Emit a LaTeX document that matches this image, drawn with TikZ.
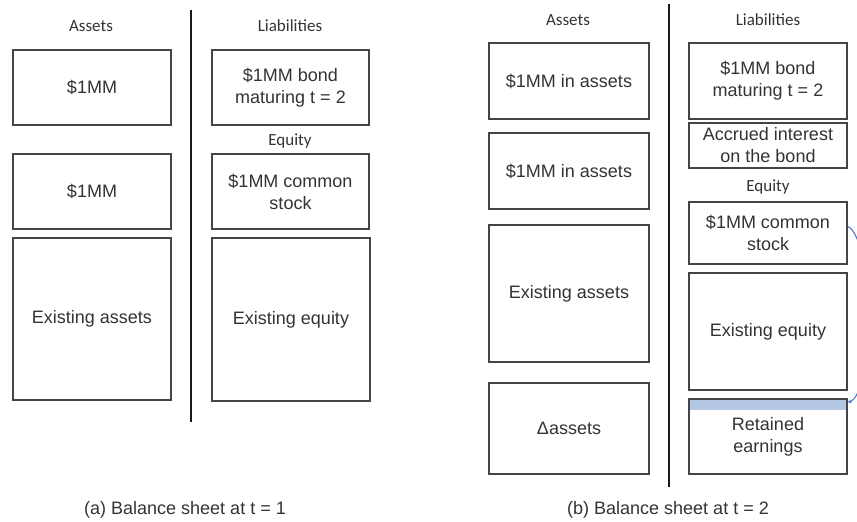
\documentclass[tikz,border=0pt]{standalone}
\usepackage{fontspec}
\setmainfont{Liberation Sans}
\newfontfamily\hdrfont{Carlito}
\usetikzlibrary{arrows.meta}
\definecolor{txt}{HTML}{333333}
\definecolor{edge}{HTML}{454545}
\definecolor{bandblue}{HTML}{B4C7E7}
\definecolor{curveblue}{HTML}{4472C4}
\tikzset{
  box/.style={draw=edge, line width=1.2pt, rectangle, inner sep=2pt, align=center,
    text=txt, font=\fontsize{18}{22}\selectfont},
  hdr/.style={text=txt, font=\hdrfont\fontsize{17}{20}\selectfont, inner sep=0pt},
  captext/.style={text=txt, font=\fontsize{18}{22}\selectfont, inner sep=0pt},
  divider/.style={draw=black!90, line width=2.2pt},
  flow/.style={draw=curveblue, line width=1pt, -{Stealth[length=4pt,width=3.5pt]}}
}
\begin{document}
\begin{tikzpicture}[x=1pt,y=-1pt]
\useasboundingbox (0,0) rectangle (857,522);
\clip (0,0) rectangle (857,522);
% ---------- (a) ----------
\node[hdr] (ha) at (91,26) {Assets};
\node[hdr] (hl) at (290,26) {Liabilities};
\node[hdr] (he) at (290,141) {Equity};
\coordinate (da1) at (191,10);
\coordinate (da2) at (191,422);
\draw[divider] (da1) -- (da2);
\node[box, minimum width=158pt, minimum height=75pt] (a1) at (92,87.5) {\$1MM};
\node[box, minimum width=158pt, minimum height=75pt] (a2) at (92,191.5) {\$1MM};
\node[box, minimum width=158pt, minimum height=162pt] (a3) at (92,319) {Existing assets};
\node[box, minimum width=157pt, minimum height=75pt] (l1) at (290.5,87.5) {\$1MM bond\\maturing t = 2};
\node[box, minimum width=157pt, minimum height=75pt] (l2) at (290.5,191.5) {\$1MM common\\stock};
\node[box, minimum width=158pt, minimum height=163pt] (l3) at (291,319.5) {Existing equity};
\node[captext] (capa) at (185,510) {(a) Balance sheet at t = 1};
% ---------- (b) ----------
\node[hdr] (hb) at (568,20) {Assets};
\node[hdr] (hr) at (768,20) {Liabilities};
\node[hdr] (hre) at (768,187) {Equity};
\coordinate (db1) at (669,4);
\coordinate (db2) at (669,487);
\draw[divider] (db1) -- (db2);
\node[box, minimum width=160pt, minimum height=76pt] (b1) at (569,81) {\$1MM in assets};
\node[box, minimum width=160pt, minimum height=76pt] (b2) at (569,171) {\$1MM in assets};
\node[box, minimum width=160pt, minimum height=137pt] (b3) at (569,293.5) {Existing assets};
\node[box, minimum width=160pt, minimum height=91pt] (b4) at (569,428.5) {Δassets};
\node[box, minimum width=158pt, minimum height=76pt] (r1) at (768,81) {\$1MM bond\\maturing t = 2};
\node[box, minimum width=158pt, minimum height=45pt] (r2) at (768,145.5) {Accrued interest\\on the bond};
\node[box, minimum width=158pt, minimum height=62pt] (r3) at (768,233) {\$1MM common\\stock};
\node[box, minimum width=158pt, minimum height=117pt] (r4) at (768,331.5) {Existing equity};
\node[box, minimum width=158pt, minimum height=75pt,
  path picture={\fill[bandblue] (path picture bounding box.north west) rectangle ([yshift=-11pt]path picture bounding box.north east);}]
  (r5) at (768,436.5) {Retained\\earnings};
\node[captext] (capb) at (668,510) {(b) Balance sheet at t = 2};
\draw[flow] ([yshift=-25pt]r3.north east) .. controls (874,238) and (874,394) .. ([yshift=-4pt]r5.north east);
\end{tikzpicture}
\end{document}
